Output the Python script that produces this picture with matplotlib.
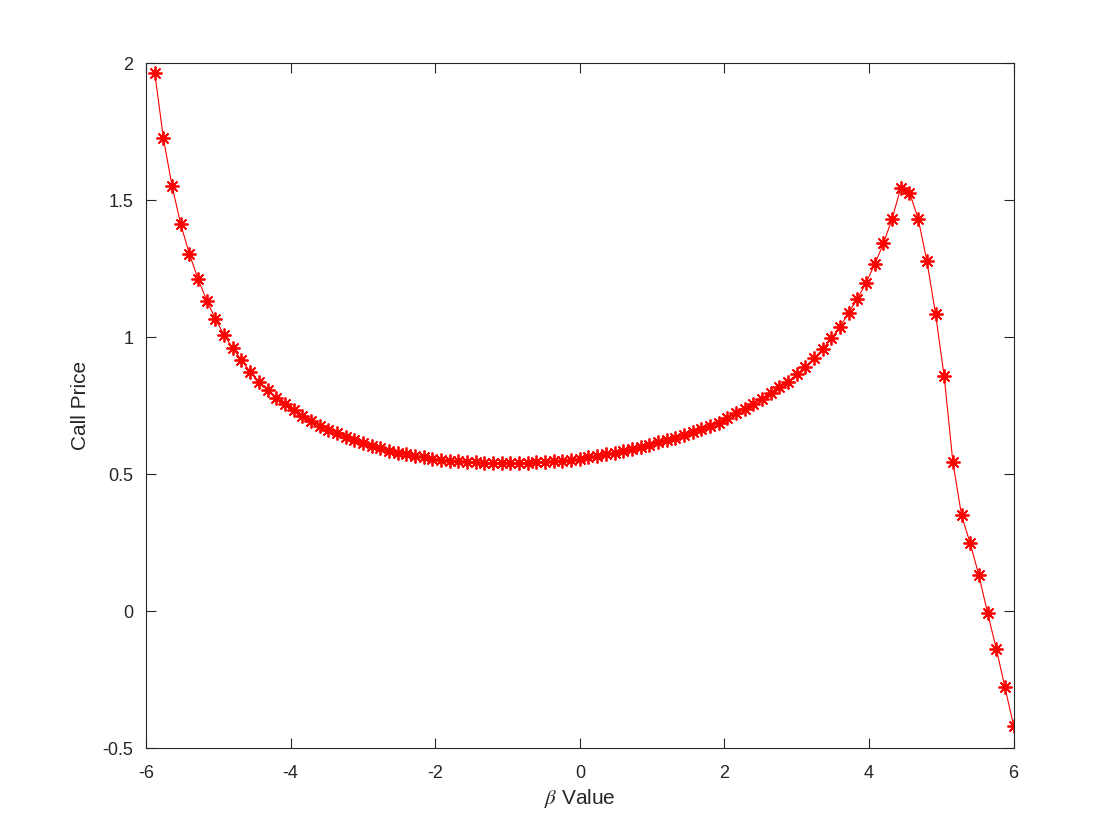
import numpy as np
import matplotlib
matplotlib.use('Agg')
import matplotlib.pyplot as plt

plt.rcParams['font.family'] = ['Liberation Sans', 'DejaVu Sans']
plt.rcParams['mathtext.fontset'] = 'stix'

# beta values, -5.88 to 6 step 0.12
beta = np.round(np.arange(-5.88, 6.0001, 0.12), 2)

# call prices
price = [1.965, 1.725, 1.551, 1.411, 1.303, 1.211, 1.133, 1.065, 1.007, 0.959,
         0.916, 0.873, 0.837, 0.807, 0.778, 0.754, 0.732, 0.713, 0.692, 0.677,
         0.661, 0.648, 0.636, 0.624, 0.612, 0.602, 0.594, 0.585, 0.578, 0.572,
         0.566, 0.561, 0.556, 0.551, 0.549, 0.546, 0.544, 0.543, 0.541, 0.541,
         0.541, 0.541, 0.541, 0.541, 0.543, 0.544, 0.546, 0.549, 0.551, 0.556,
         0.561, 0.566, 0.572, 0.578, 0.584, 0.590, 0.599, 0.606, 0.616, 0.624,
         0.633, 0.642, 0.652, 0.663, 0.676, 0.687, 0.703, 0.721, 0.736, 0.755,
         0.774, 0.794, 0.816, 0.835, 0.864, 0.892, 0.922, 0.956, 0.995, 1.038,
         1.089, 1.140, 1.198, 1.266, 1.342, 1.432, 1.545, 1.527, 1.432, 1.278,
         1.085, 0.856, 0.544, 0.349, 0.247, 0.130, -0.007, -0.137, -0.278, -0.418]

xticks = [-6, -4, -2, 0, 2, 4, 6]
yticks = [-0.5, 0, 0.5, 1, 1.5, 2]
ytick_labels = ['-0.5', '0', '0.5', '1', '1.5', '2']

fig = plt.figure(figsize=(11.2, 8.4), dpi=100)
ax = fig.add_axes([0.1304, 0.1095, 0.7746, 0.8155])

ax.plot(beta, price, color='red', linewidth=0.8, marker=(8, 2, 0),
        markersize=10, markeredgewidth=1.3)

ax.set_xlim(-6, 6)
ax.set_ylim(-0.5, 2)
ax.set_xticks(xticks)
ax.set_xticklabels([str(t) for t in xticks])
ax.set_yticks(yticks)
ax.set_yticklabels(ytick_labels)

dark = '#262626'
for s in ax.spines.values():
    s.set_color(dark)
    s.set_linewidth(0.8)
ax.tick_params(direction='in', top=True, right=True, length=7, width=0.8,
               colors=dark, labelsize=13)
ax.tick_params(axis='x', pad=12)
ax.tick_params(axis='y', pad=9)

ax.set_xlabel(r'$\beta$ Value', fontsize=15, color=dark, labelpad=4)
ax.set_ylabel('Call Price', fontsize=15, color=dark, labelpad=9)

fig.savefig('out.png', dpi=100)
